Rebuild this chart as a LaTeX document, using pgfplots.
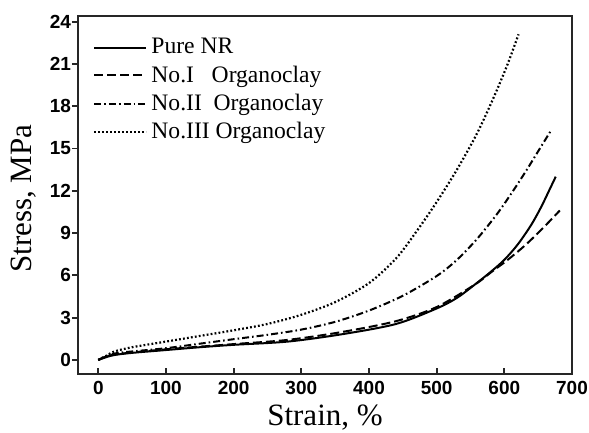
\documentclass[border=0pt]{standalone}
\usepackage{pgfplots}
\pgfplotsset{compat=1.18}
\usepackage{fontspec}
\setmainfont{Liberation Serif}
\newfontfamily\arialf{Liberation Sans}
\begin{document}
\begin{tikzpicture}
\begin{axis}[
  name=ax,
  scale only axis,
  width=247pt, height=179pt,
  xmin=-30, xmax=700, ymin=-1, ymax=24.4,
  xtick={0,100,...,700}, ytick={0,3,...,24},
  tick pos=left,
  tick align=inside,
  major tick length=3pt,
  ytick style={xshift=-3pt},
  axis line style={line width=1pt, black!85},
  tick style={line width=0.9pt, black!85},
  /pgf/number format/assume math mode=true,
  ticklabel style={font=\arialf\bfseries\fontsize{9.5}{10}\selectfont},
  xlabel={Strain, \%}, ylabel={Stress, MPa},
  label style={font=\fontsize{15.5}{16}\selectfont},
  xlabel style={at={(axis description cs:0.5,-0.123)}, anchor=center},
  ylabel style={at={(axis description cs:-0.111,0.49)}, anchor=center},
  legend style={draw=none, fill=none, at={(0.03,0.95)}, anchor=north west,
    font=\fontsize{11.8}{13}\selectfont, row sep=0.5pt, inner sep=0pt},
  legend cell align=left,
  legend image code/.code={\draw[#1] (0pt,0pt) -- (26pt,0pt);},
]
\addplot[black, line width=1pt, smooth] coordinates {
(0,0) (12,0.2) (24,0.35) (50,0.5) (100,0.7) (150,0.9) (200,1.07) (280,1.3) (360,1.82) (440,2.55) (500,3.65) (530,4.4) (556,5.33) (580,6.25) (600,7.1) (620,8.2) (640,9.6) (655,10.9) (667,12.1) (676,13.0)};
\addlegendentry{Pure NR}
\addplot[black, line width=1pt, smooth, dash pattern=on 4.5pt off 2pt] coordinates {
(0,0) (24,0.38) (100,0.75) (200,1.12) (280,1.42) (360,1.98) (440,2.75) (500,3.75) (556,5.33) (580,6.2) (605,7.1) (630,8.1) (655,9.25) (682,10.6)};
\addlegendentry{No.I\ \ \ Organoclay}
\addplot[black, line width=1pt, smooth, dash pattern=on 3.5pt off 1.5pt on 0.8pt off 1.5pt] coordinates {
(0,0) (24,0.45) (50,0.6) (100,0.83) (150,1.15) (200,1.47) (250,1.78) (300,2.15) (350,2.7) (400,3.5) (450,4.55) (500,5.95) (530,7.1) (560,8.6) (590,10.4) (614,12.07) (632,13.4) (650,14.8) (668,16.2)};
\addlegendentry{No.II\ \ Organoclay}
\addplot[black, line width=1.1pt, smooth, dash pattern=on 0.9pt off 1.1pt] coordinates {
(0,0) (12,0.3) (24,0.6) (50,0.9) (100,1.3) (150,1.7) (200,2.1) (250,2.55) (300,3.2) (350,4.1) (400,5.45) (440,7.2) (470,9.1) (500,11.2) (530,13.5) (560,16.1) (585,18.7) (605,21.0) (621,23.1)};
\addlegendentry{No.III Organoclay}
\end{axis}
\pgfresetboundingbox
\path (ax.south west) ++(-39pt,-29.5pt) rectangle ++(294.5pt,216.5pt);
\end{tikzpicture}
\end{document}
